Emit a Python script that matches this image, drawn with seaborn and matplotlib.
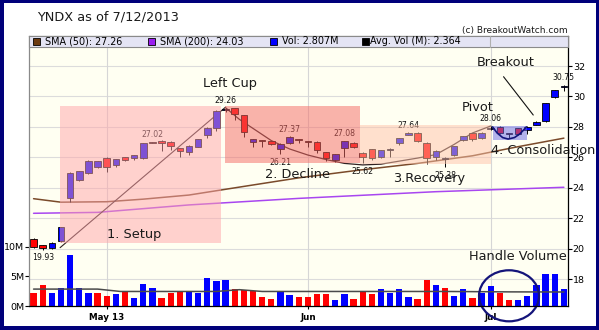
import numpy as np
import pandas as pd
import matplotlib
matplotlib.use("Agg")
import matplotlib.pyplot as plt
from matplotlib.patches import Rectangle, Ellipse
import seaborn as sns

# ------------------------------------------------------------------ data
title_text = "YNDX as of 7/12/2013"
copyright_text = "(c) BreakoutWatch.com"
legend_texts = ["SMA (50): 27.26", "SMA (200): 24.03", "Vol: 2.807M", "Avg. Vol (M): 2.364"]

opens = [20.60, 20.22, 20.02, 20.50, 23.31, 24.49, 24.95, 25.34, 25.97, 25.47,
         26.02, 25.94, 25.98, 27.00, 27.10, 27.03, 26.59, 26.35, 26.70, 27.47,
         27.91, 29.10, 29.22, 28.78, 26.99, 27.08, 27.07, 26.55, 26.95, 27.20,
         27.02, 27.03, 26.33, 25.82, 26.60, 26.96, 26.30, 26.53, 26.00, 26.50,
         26.96, 27.47, 27.62, 26.92, 26.00, 25.87, 26.15, 27.14, 27.58, 27.25,
         27.85, 28.00, 27.56, 27.91, 27.80, 28.12, 28.41, 29.95, 30.60]
highs = [20.70, 20.25, 20.40, 21.45, 25.02, 25.12, 25.80, 25.78, 26.00, 25.90,
         26.05, 26.16, 26.95, 27.02, 27.12, 27.05, 26.62, 26.80, 27.22, 27.97,
         29.10, 29.26, 29.25, 28.80, 27.20, 27.12, 27.10, 26.92, 27.37, 27.22,
         27.05, 27.06, 26.36, 26.22, 27.08, 26.98, 26.33, 26.56, 26.50, 26.58,
         27.27, 27.64, 27.64, 27.00, 26.45, 26.00, 26.76, 27.42, 27.62, 27.68,
         28.06, 28.04, 27.62, 27.93, 28.03, 28.36, 29.58, 30.45, 30.75]
lows = [20.05, 19.93, 19.95, 20.45, 23.08, 24.45, 24.90, 25.30, 25.05, 25.34,
        25.78, 25.80, 25.89, 26.94, 26.44, 26.50, 26.00, 26.15, 26.65, 27.25,
        27.75, 29.00, 28.45, 27.36, 26.66, 26.70, 26.80, 26.21, 26.90, 26.92,
        26.70, 26.26, 25.74, 25.67, 26.00, 26.60, 25.62, 25.85, 25.95, 26.00,
        26.80, 27.45, 27.00, 25.56, 25.80, 25.38, 26.10, 27.05, 27.10, 27.20,
        27.80, 27.55, 27.30, 27.45, 27.53, 28.10, 28.34, 29.90, 30.38]
closes = [20.12, 20.04, 20.37, 21.42, 24.99, 25.10, 25.76, 25.74, 25.34, 25.87,
          25.80, 26.15, 26.92, 26.96, 26.92, 26.74, 26.40, 26.77, 27.20, 27.95,
          29.07, 29.15, 28.85, 27.68, 27.18, 27.05, 26.88, 26.90, 27.33, 27.16,
          26.99, 26.48, 25.98, 26.20, 27.05, 26.70, 26.05, 25.94, 26.48, 26.53,
          27.25, 27.62, 27.09, 25.98, 26.43, 25.98, 26.74, 27.40, 27.20, 27.62,
          27.95, 27.62, 27.52, 27.55, 28.00, 28.34, 29.55, 30.43, 30.72]
volume_m = [2.16, 3.52, 2.16, 3.10, 8.60, 3.10, 2.27, 2.16, 1.76, 2.00,
            2.50, 1.42, 3.70, 3.10, 1.42, 2.16, 2.50, 2.50, 2.27, 4.66,
            4.15, 4.30, 2.90, 2.67, 2.56, 1.60, 1.25, 2.50, 1.93, 1.60,
            1.60, 2.00, 2.10, 1.08, 2.00, 1.25, 2.60, 2.00, 2.80, 2.16,
            2.84, 1.60, 1.25, 4.30, 3.50, 2.95, 1.76, 2.80, 1.42, 2.27,
            3.30, 2.27, 1.08, 1.08, 1.76, 3.47, 5.34, 5.34, 2.81]
vol_up = [0, 0, 1, 1, 1, 1, 1, 0, 0, 1,
          0, 1, 1, 1, 0, 0, 0, 1, 1, 1,
          1, 1, 0, 0, 0, 0, 0, 1, 1, 0,
          0, 0, 0, 1, 1, 0, 0, 0, 1, 1,
          1, 1, 0, 0, 1, 0, 1, 1, 0, 1,
          1, 0, 0, 1, 1, 1, 1, 1, 1]

sma50_x = [0, 3, 8, 12, 17, 22.6, 29, 35.5, 42, 48, 53, 58]
sma50_y = [23.28, 23.05, 23.08, 23.25, 23.52, 24.05, 24.65, 25.15, 25.60, 26.10, 26.70, 27.26]
sma200_x = [0, 7, 17, 29, 44, 58]
sma200_y = [22.32, 22.38, 22.87, 23.30, 23.74, 24.03]
avgvol_x = [0, 7, 9.5, 20, 22.5, 25, 35, 45, 52, 58]
avgvol_y = [2.85, 2.85, 2.45, 2.45, 2.75, 2.45, 2.45, 2.45, 2.38, 2.36]

cup_x = [21, 22.5, 24, 26, 28, 30, 32, 34, 36, 38, 40, 42, 44, 46, 48, 50]
cup_y = [29.26, 28.50, 27.90, 27.10, 26.55, 26.15, 25.85, 25.60, 25.50, 25.55,
         25.75, 25.95, 26.18, 26.85, 27.60, 28.06]
handle_x = [50.2, 50.7, 51.3, 51.9, 52.6, 53.2, 53.6, 53.9]
handle_y = [28.00, 27.60, 27.30, 27.20, 27.30, 27.55, 27.80, 28.00]
setup_line_x = [2.9, 21.0]
setup_line_y = [20.06, 29.30]
breakout_line_x = [51.4, 54.65]
breakout_line_y = [31.30, 28.78]

label_bars = [1, 13, 21, 27, 28, 34, 36, 41, 45, 50, 58]
label_vals = [19.93, 27.02, 29.26, 26.21, 27.37, 27.08, 25.62, 27.64, 25.38, 28.06, 30.75]
label_above = [0, 1, 1, 0, 1, 1, 0, 1, 0, 1, 1]

month_ticks = [8, 30, 50]
month_labels = ["May 13", "Jun", "Jul"]
price_ticks = [18, 20, 22, 24, 26, 28, 30, 32]
vol_ticks = [0, 5, 10]
vol_tick_labels = ["0M", "5M", "10M"]

# ------------------------------------------------------------------ figure
sns.set_theme(style="white")
plt.rcParams["font.family"] = ["DejaVu Sans"]

W, H = 599, 330
fig = plt.figure(figsize=(W / 100, H / 100), dpi=100)
fig.patch.set_facecolor("white")
L, R, T, B = 29, 568, 36, 306
ax = fig.add_axes([L / W, 1 - B / H, (R - L) / W, (B - T) / H])
ax.set_facecolor("#fffff2")
axv = ax.twinx()
axv.patch.set_visible(False)

n = len(opens)
idx = np.arange(n)
o = np.array(opens); h = np.array(highs); lo = np.array(lows); c = np.array(closes)

ax.set_xlim(-0.5, 58.45)
ax.set_ylim(16.225, 33.976)
axv.set_ylim(0, 45.5)

# grid
for p in price_ticks:
    ax.axhline(p, color="#dcdcdc", lw=0.8, zorder=0.5)
for m in month_ticks:
    ax.axvline(m, color="#d6d6d6", lw=0.8, zorder=0.5)

# moving averages and pattern lines (under overlays)
sns.lineplot(x=sma50_x, y=sma50_y, ax=ax, color="#7a4a2a", lw=1.1, estimator=None, zorder=1)
sns.lineplot(x=sma200_x, y=sma200_y, ax=ax, color="#a846f0", lw=1.1, estimator=None, zorder=1)
sns.lineplot(x=cup_x, y=cup_y, ax=ax, color="#302020", lw=0.9, estimator=None, zorder=1.5)
sns.lineplot(x=setup_line_x, y=setup_line_y, ax=ax, color="#302020", lw=0.8, estimator=None, zorder=1.5)

# candles
up = c >= o
ax.vlines(idx, lo, h, color="black", lw=0.7, zorder=2)
body_bot = np.minimum(o, c)
body_h = np.maximum(np.abs(c - o), 0.06)
ax.bar(idx, body_h, bottom=body_bot, width=0.72,
       color=np.where(up, "#0000ff", "#ff0000"), edgecolor="black", linewidth=0.6, zorder=2.2)

# high / low labels
for b, v, a in zip(label_bars, label_vals, label_above):
    ax.annotate(f"{v:.2f}", (b, v), xytext=(0, 5.2 if a else -6.0), textcoords="offset points",
                ha="center", va="center", fontsize=5.6, color="#111111", zorder=2.5)

# overlays
ax.add_patch(Rectangle((2.84, 20.35), 20.5 - 2.84, 29.37 - 20.35, facecolor="#ffa5aa", alpha=0.5, lw=0, zorder=3))
ax.add_patch(Rectangle((20.95, 25.60), 35.7 - 20.95, 29.37 - 25.60, facecolor="#f56964", alpha=0.5, lw=0, zorder=3))
ax.add_patch(Rectangle((35.7, 25.58), 50.0 - 35.7, 28.15 - 25.58, facecolor="#ffc3aa", alpha=0.5, lw=0, zorder=3))
ax.add_patch(Rectangle((50.2, 27.14), 53.95 - 50.2, 28.07 - 27.14, facecolor="#6969e6", alpha=0.5, lw=0, zorder=3))

sns.lineplot(x=handle_x, y=handle_y, ax=ax, color="#14147a", lw=1.2, estimator=None, sort=False, zorder=4)
sns.lineplot(x=breakout_line_x, y=breakout_line_y, ax=ax, color="#111111", lw=0.8, estimator=None, zorder=4)

tk = dict(fontsize=9.3, color="#1a1a1a", zorder=4, va="center")
ax.text(21.5, 30.87, "Left Cup", ha="center", **tk)
ax.text(8.02, 20.94, "1. Setup", ha="left", **tk)
ax.text(25.3, 24.84, "2. Decline", ha="left", **tk)
ax.text(39.3, 24.62, "3.Recovery", ha="left", **tk)
ax.text(50.0, 26.43, "4. Consolidation", ha="left", **tk)
ax.text(46.85, 29.29, "Pivot", ha="left", **tk)
ax.text(48.45, 32.22, "Breakout", ha="left", **tk)
ax.text(58.3, 19.51, "Handle Volume", ha="right", **tk)

# volume
vdf = pd.DataFrame({"bar": idx, "vol": volume_m,
                    "dir": ["up" if u else "down" for u in vol_up]})
sns.barplot(data=vdf, x="bar", y="vol", hue="dir", palette={"up": "#0000ff", "down": "#ff0000"},
            native_scale=True, width=0.68, dodge=False, legend=False, errorbar=None,
            saturation=1, linewidth=0, ax=axv, zorder=2)
sns.lineplot(x=avgvol_x, y=avgvol_y, ax=axv, color="#4a4a4a", lw=1.1, estimator=None, zorder=3)
axv.add_patch(Ellipse((52.0, 1.72), 6.56, 8.6, fill=False, edgecolor="#14147a", lw=1.6,
                      clip_on=False, zorder=5))

ax.set_xlim(-0.5, 58.45)
axv.set_ylim(0, 45.5)
ax.set_ylim(16.225, 33.976)
for a_ in (ax, axv):
    a_.set_xlabel("")
    a_.set_ylabel("")

# axes / ticks
ax.yaxis.tick_right()
ax.set_yticks(price_ticks, [str(p) for p in price_ticks])
ax.tick_params(axis="y", which="both", right=True, left=False, labelright=True, labelleft=False,
               direction="out", length=2.6, width=0.8, color="black", labelsize=6.8, pad=0.8,
               labelcolor="black")
axv.yaxis.tick_left()
axv.set_yticks(vol_ticks, vol_tick_labels)
axv.tick_params(axis="y", which="both", left=True, right=False, labelleft=True, labelright=False,
                direction="out", length=2.8, width=0.8, color="black", labelsize=6.8, pad=0.5,
                labelcolor="black")
ax.set_xticks(month_ticks, month_labels)
ax.tick_params(axis="x", bottom=True, direction="out", length=2.5, width=0.8, color="black",
               labelsize=6.3, pad=2.2, labelcolor="black")
for lab in ax.get_xticklabels():
    lab.set_fontweight("bold")

for s in ax.spines.values():
    s.set_visible(False)
for name, s in axv.spines.items():
    s.set_visible(True)
    s.set_linewidth(0.9)
    s.set_color("black" if name in ("right", "bottom") else "#8a8a8a")
    s.set_zorder(6)

# legend strip
strip_h = 11 / (B - T)
axv.add_patch(Rectangle((0, 1 - strip_h), 1, strip_h, transform=axv.transAxes, facecolor="#e4e4f4",
                        edgecolor="#8a8a8a", lw=0.8, zorder=10, clip_on=False))
sep_x = (490 - L) / (R - L)
axv.plot([sep_x, sep_x], [1 - strip_h, 1], transform=axv.transAxes, color="#b0b0b0", lw=0.8,
         zorder=11, clip_on=False)
sq_x = [33, 148, 270, 362]
tx_x = [45, 160, 282, 370]
sq_col = ["#6b3a10", "#9a1ef0", "#0000ff", "#000000"]
sq_w = 7 / (R - L)
sq_h = 7 / (B - T)
yc = 1 - strip_h / 2
for sx, tx, col, txt in zip(sq_x, tx_x, sq_col, legend_texts):
    axv.add_patch(Rectangle(((sx - L) / (R - L), yc - sq_h / 2), sq_w, sq_h, transform=axv.transAxes,
                            facecolor=col, edgecolor="black", lw=0.6, zorder=12, clip_on=False))
    axv.text((tx - L) / (R - L), yc, txt, transform=axv.transAxes, fontsize=6.9, va="center",
             ha="left", color="black", zorder=12)

# title and copyright
fig.text(36.7 / W, 1 - 17.5 / H, title_text, fontsize=9.3, color="#1a1a1a", ha="left", va="center")
fig.text(568 / W, 1 - 30 / H, copyright_text, fontsize=6.5, color="#1a1a1a", ha="right", va="center")

# navy frame
navy = "#00007a"
for (x0, y0, w, hh) in [(0, 0, 4, H), (W - 3, 0, 3, H), (0, H - 3, W, 3), (0, 0, W, 4)]:
    fig.add_artist(Rectangle((x0 / W, y0 / H), w / W, hh / H, transform=fig.transFigure,
                             facecolor=navy, edgecolor="none", zorder=20))

fig.savefig("out.png", dpi=100, facecolor="white")
